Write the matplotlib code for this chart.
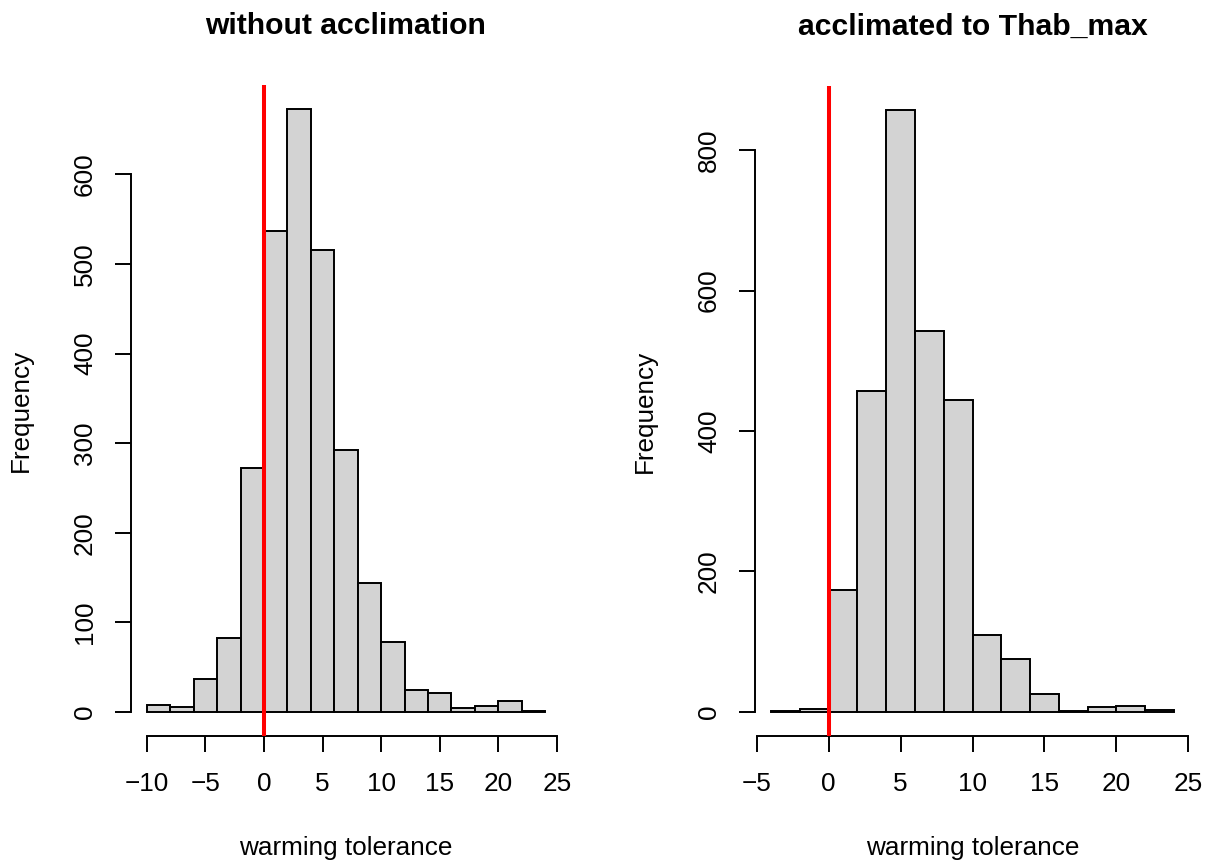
import matplotlib
matplotlib.use("Agg")
import matplotlib.pyplot as plt
import numpy as np

plt.rcParams["font.family"] = ["Liberation Sans", "DejaVu Sans"]

# bin edges (width 2) and counts
edges_no_accl = list(range(-10, 26, 2))
counts_no_accl = [8, 6, 37, 82, 272, 537, 673, 516, 292, 144, 78, 24, 21, 4, 7, 12, 1]

edges_accl = list(range(-4, 26, 2))
counts_accl = [2, 4, 173, 457, 857, 543, 444, 109, 76, 25, 1, 7, 9, 3]

titles = ["without acclimation", "acclimated to Thab_max"]
xticks_list = [[-10, -5, 0, 5, 10, 15, 20, 25], [-5, 0, 5, 10, 15, 20, 25]]
yticks_list = [[0, 100, 200, 300, 400, 500, 600], [0, 200, 400, 600, 800]]

fig = plt.figure(figsize=(12.07, 8.61), dpi=100)
W, H = 1207, 861
# axes boxes in pixels: left, top, right, bottom
boxes = [(131, 85, 561, 736), (755, 86, 1190, 736)]

panels = [(edges_no_accl, counts_no_accl), (edges_accl, counts_accl)]

for i, ((edges, counts), box) in enumerate(zip(panels, boxes)):
    l, t, r, b = box
    ax = fig.add_axes([l / W, (H - b) / H, (r - l) / W, (b - t) / H])
    edges = np.array(edges[:len(counts) + 1])
    ax.bar(edges[:-1], counts, width=np.diff(edges), align="edge",
           color="#d3d3d3", edgecolor="black", linewidth=1.4)

    lo, hi = edges[0], edges[-1]
    pad = 0.04 * (hi - lo)
    ax.set_xlim(lo - pad, hi + pad)
    ymax = max(counts)
    ax.set_ylim(-0.04 * ymax, ymax * 1.04)

    ax.axvline(0, color="red", linewidth=2.9, zorder=5)

    for s in ["top", "right"]:
        ax.spines[s].set_visible(False)
    xt, yt = xticks_list[i], yticks_list[i]
    ax.spines["bottom"].set_bounds(xt[0], xt[-1])
    ax.spines["left"].set_bounds(yt[0], yt[-1])
    for s in ["bottom", "left"]:
        ax.spines[s].set_linewidth(1.4)
    ax.set_xticks(xt)
    ax.set_xticklabels([str(v).replace("-", "\u2212") for v in xt])
    ax.set_yticks(yt)
    ax.set_yticklabels([str(v) for v in yt], rotation=90, va="center")
    ax.tick_params(axis="both", length=11.5, width=1.4, labelsize=18.8)
    ax.tick_params(axis="x", pad=14.5)
    ax.tick_params(axis="y", pad=13)

    ax.set_title(titles[i], fontsize=21.7, fontweight="bold", pad=37)
    ax.set_xlabel("warming tolerance", fontsize=18.8, labelpad=29)
    ax.set_ylabel("Frequency", fontsize=18.8, labelpad=29)

fig.savefig("out.png", dpi=100)
